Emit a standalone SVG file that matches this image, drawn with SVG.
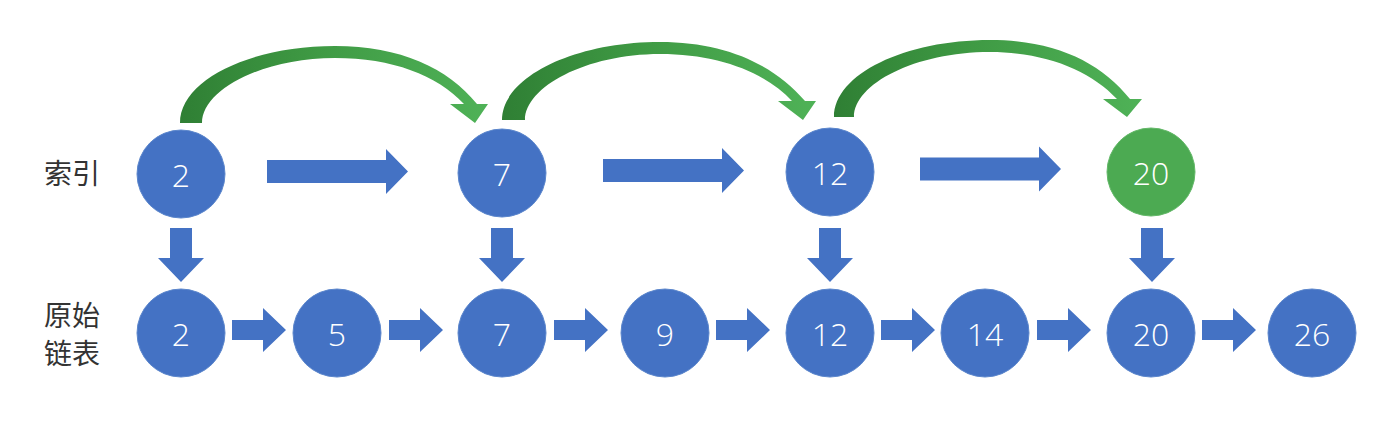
<svg xmlns="http://www.w3.org/2000/svg" width="1384" height="438" viewBox="0 0 1384 438">
<style>
.node{fill:#4472C4;stroke:#5b86cc;stroke-width:1}
.gnode{fill:#4CAA52;stroke:#63b868;stroke-width:1}
.num{font-family:"Open Sans","Noto Sans",sans-serif;font-size:32px;font-weight:300;fill:#fff;text-anchor:middle;dominant-baseline:central}
.lbl{font-family:"Noto Sans CJK SC",sans-serif;font-size:28px;fill:#333}
.arr{fill:#4472C4}
.curve{fill:url(#g)}
</style>
<defs>
<linearGradient id="g" x1="0" y1="0" x2="1" y2="0">
<stop offset="0" stop-color="#2f7f34"/>
<stop offset="0.45" stop-color="#3f9a44"/>
<stop offset="1" stop-color="#4fb257"/>
</linearGradient>
<path id="ha" d="M0,-11.5 L119,-11.5 L119,-22.5 L141,0 L119,22.5 L119,11.5 L0,11.5 Z"/>
<path id="da" d="M-11,0 L11,0 L11,30 L23,30 L0,54 L-23,30 L-11,30 Z"/>
<path id="sa" d="M0,-10 L31,-10 L31,-22 L54,0 L31,22 L31,10 L0,10 Z"/>
</defs>
<g id="labels">
<text class="lbl" x="44" y="184">索引</text>
<text class="lbl" x="44" y="326">原始</text>
<text class="lbl" x="44" y="364">链表</text>
</g>
<g id="connectors">
<path class="curve" d="M180,123 C180,80 250,46 335,46 C400,46 448,68 477,104 L488,104 L475,123 L450,104 L464,104 C437,75 392,58 335,58 C262,58 202,90 202,123 Z"/>
<path class="curve" d="M502,120 C502,77 574,42 660,42 C725,42 773,64 805,101 L816,101 L803,120 L778,101 L792,101 C765,72 718,54 660,54 C586,54 525,87 525,120 Z"/>
<path class="curve" d="M834,117 C834,74 905,40 990,40 C1055,40 1100,62 1130,99 L1142,99 L1127,117 L1103,99 L1117,99 C1090,70 1045,52 990,52 C915,52 854,84 854,117 Z"/>
<use href="#ha" class="arr" x="267" y="171.5"/>
<use href="#ha" class="arr" x="603" y="170.5"/>
<use href="#ha" class="arr" x="920" y="169"/>
<use href="#da" class="arr" x="181" y="228"/>
<use href="#da" class="arr" x="502" y="228"/>
<use href="#da" class="arr" x="830" y="228"/>
<use href="#da" class="arr" x="1152" y="228"/>
<use href="#sa" class="arr" x="232" y="330"/>
<use href="#sa" class="arr" x="389" y="330"/>
<use href="#sa" class="arr" x="554" y="330"/>
<use href="#sa" class="arr" x="716" y="330"/>
<use href="#sa" class="arr" x="881" y="330"/>
<use href="#sa" class="arr" x="1037" y="330"/>
<use href="#sa" class="arr" x="1202" y="330"/>
</g>
<g id="idx2"><circle class="node" cx="181" cy="174" r="44"/><text class="num" x="181" y="174">2</text></g>
<g id="idx7"><circle class="node" cx="502" cy="173" r="44"/><text class="num" x="502" y="173">7</text></g>
<g id="idx12"><circle class="node" cx="830" cy="172" r="44"/><text class="num" x="830" y="172">12</text></g>
<g id="idx20"><circle class="gnode" cx="1151" cy="172" r="44"/><text class="num" x="1151" y="172">20</text></g>
<g id="n2"><circle class="node" cx="181" cy="333" r="44"/><text class="num" x="181" y="333">2</text></g>
<g id="n5"><circle class="node" cx="337" cy="333" r="44"/><text class="num" x="337" y="333">5</text></g>
<g id="n7"><circle class="node" cx="502" cy="333" r="44"/><text class="num" x="502" y="333">7</text></g>
<g id="n9"><circle class="node" cx="665" cy="333" r="44"/><text class="num" x="665" y="333">9</text></g>
<g id="n12"><circle class="node" cx="830" cy="333" r="44"/><text class="num" x="830" y="333">12</text></g>
<g id="n14"><circle class="node" cx="985" cy="333" r="44"/><text class="num" x="985" y="333">14</text></g>
<g id="n20"><circle class="node" cx="1151" cy="333" r="44"/><text class="num" x="1151" y="333">20</text></g>
<g id="n26"><circle class="node" cx="1312" cy="333" r="44"/><text class="num" x="1312" y="333">26</text></g>
</svg>
